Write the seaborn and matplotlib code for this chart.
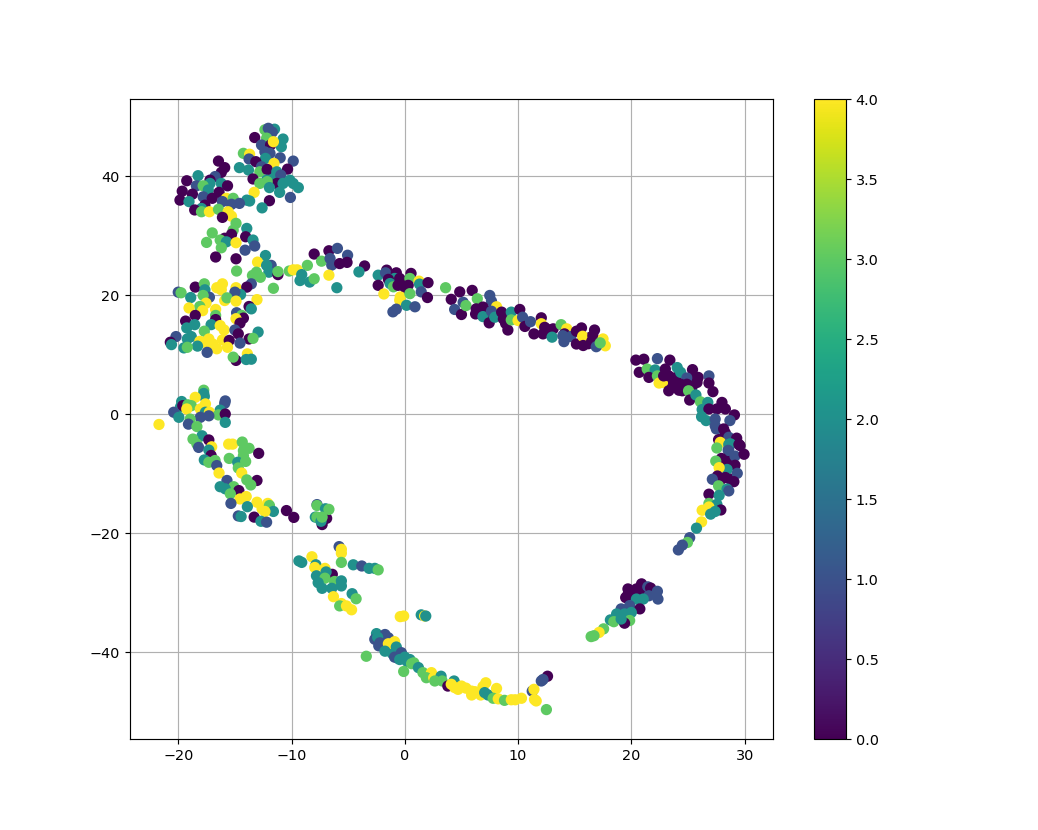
import matplotlib
matplotlib.use("Agg")
import matplotlib.pyplot as plt
from matplotlib.cm import ScalarMappable
from matplotlib.colors import Normalize
import numpy as np
import pandas as pd
import seaborn as sns

x_m = [24,24.6,23.7,25,25.4,23.3,24.2,22.9,23.9,-2,-1.5,-1,-0.5,-1.1,0.2,-2.3,-1.9,-0.6,20,20.3,20.9,21.2,19.5,7,6.6,7.3,8.7,9,8.9,12.8,12.6,15.9,16.2,16.3,15.6,28.5,28.1,28.8,28.7,27.9,28.5,28,28.3,-0.1,0.1,-0.4,-11.6,-11,6.2,5.4]
y_m = [5.5,4.5,4.6,4,5.8,5.3,4,7.2,6.1,-38.3,-39,-39.5,-40.2,-40.2,-41.5,-38.9,-38.9,-41,-30,-30.5,-29.5,-30,-30.8,16.7,17.4,17.2,16.5,16.5,15.2,13.9,14.2,12.5,11.8,12.8,11.9,-7.5,-7.7,-8,-10.9,-11,-8.6,-4.1,-3.2,21.5,21,22.3,39.8,39.2,-46.6,-46]
c_m = [0,0,0,0,0,0,0,0,0,2,2,2,2,2,2,1,1,1,0,0,0,0,0,0,0,0,0,0,0,0,0,0,0,0,0,0,0,0,0,0,0,0,0,0,0,0,2,2,4,4]

x_a = [-12.35,-11.5,-12.05,-11.7,-10.75,-13.25,-12.2,-12.65,-11.85,-10.9,-11.6,-14.25,-13.7,-12.35,-11.9,-11.0,-12.3,-13.75,-13.15,-9.85,-11.55,-12.65,-14.6,-13.8,-12.8,-12.15,-10.35,-11.3,-10.95,-13.4,-12.2,-10.15,-11.3,-12.8,-12.15,-10.75,-9.85,-9.4,-13.3,-11.95,-11.05,-10.1,-11.95,-12.6]
y_a = [47.7,47.8,47.95,47.3,46.15,46.4,46.3,45.15,45.15,44.85,45.7,43.75,43.6,44.0,43.75,43.0,42.9,42.8,42.35,42.45,42.05,41.5,41.35,40.95,40.65,41.05,41.1,40.65,40.1,39.45,39.25,39.25,38.7,38.7,39.0,38.7,38.7,38.0,37.2,38.0,37.2,36.35,35.8,34.6]
c_a = [3,2,1,1,2,0,3,1,0,2,4,3,4,1,1,1,2,1,0,1,4,1,2,2,3,0,0,2,1,0,2,2,0,3,3,2,2,2,4,2,2,1,0,2]

x_b = [-16.45,-15.9,-16.2,-18.25,-16.75,-19.25,-17.2,-16.2,-18.4,-17.2,-15.65,-17.8,-17.35,-19.65,-18.75,-16.4,-17.8,-17,-19.85,-19.05,-15.75,-15.15,-13.95,-13.7,-16.1,-15.3,-14.6,-17.65,-17.95,-18.55,-17.95,-17.25,-16.45,-15.6,-15.3,-16.1,-14.9,-15.15,-13.95,-17,-15.3,-15.9,-17.5,-16.3,-14.05,-15.75,-14.9,-13.4,-13.25,-16.2,-14.1]
y_b = [42.45,41.35,40.55,40,39.85,39.15,39.25,38.7,38.3,38.7,38.3,38.3,37.6,37.4,36.9,37.2,36.45,36.2,35.9,35.65,36.2,36.2,35.9,35.75,35.65,35.2,35.35,35.05,34.5,34.25,33.95,33.95,34.35,33.95,33.2,33.0,32,30.85,31.15,30.4,30.15,29.5,28.8,29.2,29.75,28.9,28.75,29.2,28.2,27.9,27.5]
c_b = [0,0,0,2,1,0,0,2,1,2,0,3,2,0,0,0,1,0,0,2,4,3,2,2,1,1,1,0,2,0,3,4,3,4,4,0,3,3,2,3,0,0,3,3,0,2,4,2,1,3,1]

x_c = [-16.7,-14.9,-12.3,-13,-11.8,-12.2,-14.85,-12,-11.2,-11.2,-13.1,-13.45,-12.75,-10.2,-9.85,-9.5,-8.6,-9.1,-9.25,-8.4,-8,-13.55,-11.6,-18.5,-17.7,-17.65,-17.25,-20,-19.75,-18.9,-17.8,-16.6,-16.1,-16.2,-14.9,-13.95,-14.5,-15,-15.9,-15.7,-14.9,-13.05,-17.55,-18.1,-19.05,-17.85,-16.7,-13.75,-13.55,-14.85,-18.5,-16.7,-14.4,-14.25,-14.9,-16.7,-19.35,-18.55,-17.1,-14.55,-16.3,-15.95,-19.25,-17.7,-15,-12.95,-14.7,-20.2,-18.85,-20.7,-20.6,-19.2,-13.75,-13.4,-16.1,-15.5,-14.55,-18.1,-17.3,-17.7,-16.95,-15.65,-16.6,-18.3,-19.5,-19.2,-17.45,-13.9,-14.9,-15.15,-14,-13.55]
y_c = [26.35,26.05,26.6,25.5,24.95,24.95,24,23.8,23.4,23.9,23.8,23.25,22.95,24,24.2,24.2,24.95,23.4,22.4,22.15,22.7,21.85,21.1,21.3,21.85,20.85,19.6,20.45,20.35,19.55,19.9,21.2,21.85,20.85,21.2,21.3,20.05,20.45,19.05,19.5,18.95,19.2,18.6,18.05,17.8,17.35,17.55,18.05,17.65,17,16.55,16.55,16.55,16.1,16,15.85,15.6,15,15,15.25,14.85,14.1,14.45,13.9,14.1,13.75,13.45,13,13,12.05,11.65,12.6,12.6,12.7,12.45,12.35,11.9,12.2,12.6,12.05,11.75,11.2,10.95,11.4,11.1,11.2,10.35,10.1,9,9.55,9.15,9.2]
c_c = [0,0,2,4,1,2,3,2,0,3,3,3,3,3,4,4,3,2,2,2,3,1,3,0,3,2,1,1,3,2,3,4,4,4,4,0,2,1,4,3,4,4,4,3,4,4,4,0,2,1,0,3,3,0,4,0,0,2,2,0,4,4,2,3,1,2,0,1,2,0,2,2,0,3,4,0,1,4,4,4,4,4,4,2,2,3,1,4,0,3,2,2]

x_d = [-17.75,-17.75,-17.7,-18.5,-19.7,-15.85,-15.9,-17.6,-19.8,-19.6,-19.15,-18.85,-19.25,-18.05,-16.3,-20.4,-17.6,-17.25,-16.45,-15.85,-17.3,-18.05,-19.95,-18.95,-19.1,-15.85,-18.35,-21.7,-17.9,-18.7,-18.35,-17.3,-18.2,-17.05,-17.3,-15.55,-15.2,-14.35,-13.75,-12.9,-14.25,-17.1,-17.7,-17.3,-16.75,-15.5,-14.25,-14.75,-14.05,-16.6,-14.7,-16.4,-14.4,-13.05,-13.95,-13.6,-15.7,-15.1,-16.3,-15.85,-14.65,-15.4,-14.55,-14,-15.35,-13.05,-12.6,-12.1,-11.95,-11.6,-12.35,-13.9,-14.7,-14.45,-13.3,-12.7,-12.2,-10.45,-9.8]
y_d = [4.0,3.45,2.95,2.8,2.1,2.2,1.8,1.7,1.2,1.4,1.55,1.4,0.85,0.85,0.65,0.3,0.3,0.3,-0.15,0,-0.3,-0.55,-0.55,-0.85,-1.7,-1.4,-2.1,-1.75,-3.65,-4.2,-5.05,-4.35,-5.6,-5.5,-6.05,-5.05,-5.05,-4.7,-5.75,-6.6,-6.15,-6.95,-7.7,-8.1,-7.8,-7.45,-7,-8.1,-7.95,-8.65,-9.05,-9.9,-9.9,-11.15,-11.05,-11.9,-11.15,-12.2,-12.2,-12.55,-12.85,-13.4,-14.25,-13.85,-15,-14.8,-15.9,-15,-15.35,-16.35,-16.35,-15.55,-17.1,-17.2,-17.3,-18,-18.15,-16.2,-17.35]
c_d = [3,2,2,4,2,1,1,4,2,0,3,3,4,4,2,1,2,4,3,0,1,1,2,3,1,2,3,4,2,3,3,0,1,4,2,4,4,3,3,0,3,0,2,3,3,3,3,2,3,1,3,4,4,0,3,3,1,3,2,2,0,3,4,4,1,4,4,4,3,2,4,2,1,2,0,2,1,0,0]

x_e = [-6.9,-7.3,-7.75,-7.75,-7.9,-7.75,-7.4,-7,-6.7,-7.3]
y_e = [-17.5,-18.55,-15.2,-15.35,-17.3,-17.3,-18,-15.9,-16,-17.3]
c_e = [0,0,1,3,2,3,2,2,3,3]

x_f = [-8,-6.7,-5.95,-5.05,-7.35,-6.6,-6.45,-5.75,-5.1,-3.55,-4.05,-6.7,-6,-1.6,-2.35,-1.7,-0.75,0.55,-0.9,-1.45,-2.35,-1.3,-1,-0.45,-0.6,0.3,0.45,1.25,1.3,2.05,0.3,3.6,1.45,2,-1.85,-0.4,0.45,-0.45,0.15,0.9,-0.75,-1.05,4.1,4.85,4.4,5]
y_f = [26.85,27.4,27.8,26.65,25.65,26.1,25,25.25,25.45,24.85,23.85,23.3,21.2,24.15,23.3,23.7,23.7,23.6,22.75,22.6,21.6,21.9,21.35,22.75,21.6,22.45,22.75,22.3,21.8,22.05,21.6,21.2,20.5,19.55,20.15,19.65,20.2,19.1,18.25,18,17.6,17.15,19.25,20.5,17.55,16.7]
c_f = [0,0,1,1,3,1,1,0,0,0,2,4,2,0,2,1,0,0,2,0,0,2,3,0,0,0,3,4,2,0,0,3,1,0,4,4,3,4,2,1,1,1,0,0,1,0]

x_g = [5.95,5.15,5.4,6.4,7.5,7.65,6.3,6.25,6.9,6.75,6.9,7.45,8.1,7.65,7.95,8.55,8.7,9.1,9.4,9.4,10,10.15,10.4,10.6,11.1,12.05,12.05,11.4,12.2,12.35,13.1,13,13.8,14.3,14.1,13.95,14.05,14.65,15.15,15.6,15.15,15.7,15.75,16.5,16.75,16.6,17.5,17.7,16.9,17.25]
y_g = [20.75,18.75,18.2,19.35,19.9,18.95,17.65,16.8,17.95,17.35,16.35,15.3,18,17.25,16.25,17.1,15.95,14.1,17.1,15.8,15.7,17.55,16.25,14.7,15.5,16.15,15.15,13.45,13.45,14.55,14.3,12.9,15,14.3,13.45,13.15,12.15,13,11.75,14.45,13.9,13.05,11.5,12.2,14.1,13.15,12.6,11.45,11.3,11.95]
c_g = [0,1,3,3,1,1,0,0,0,0,2,0,4,1,2,0,0,0,2,3,4,0,1,0,1,0,4,0,0,0,0,2,3,4,0,1,1,1,0,0,0,4,0,0,0,0,4,4,1,3]

x_h = [20.4,21.1,22.3,23.4,20.7,21.4,22.1,21.55,22.3,22.45,22.75,23,22.85,23.3,24.05,24.35,25.4,24.9,25.9,23.75,23.3,24.35,24.5,24.9,25.35,25.8,26.85,26.85,27.2,25.05,25.15,25.7,26.1,26.75,28,26.25,26.85,27.55,28.3,29.1,26.2,26.6,27.4,27.4,28.7,27.5,28.15,28.6,29.3,27.7,27.85,28.75,29.6,27.55,28.6]
y_h = [9.05,9.2,9.3,9.05,7,7.55,7.4,6.15,6.4,5.2,5.3,7.55,6.4,6.4,7.8,7,7.45,6.05,6.15,5.3,3.9,5,3.9,5,4.5,5.3,6.4,5.2,3.75,3.9,2.35,3.2,2.05,1.95,1.95,0.75,0.85,0.85,0.85,-0.15,-0.45,-1.1,-0.85,-1.95,-1.1,-2.5,-2.5,-3.9,-4.05,-4.3,-4.75,-5,-5.3,-5.7,-5.85]
c_h = [0,0,1,0,0,3,2,0,3,4,4,0,0,0,2,2,0,1,0,0,0,0,0,0,0,0,1,0,0,3,0,2,3,2,0,2,0,0,0,0,2,2,1,1,1,1,0,1,0,0,4,2,0,3,1]

x_i = [28.6,29.5,28.55,29.15,29.95,27.95,27.45,29.15,28.45,27.75,29.35,28.3,29.05,27.6,27.15,27.7,28.45,28.6,26.85,27.75,26.85,27.55,27.9,26.85,26.25,27,27.4,26.2,25.75,25.15,24.95,24.5,24.15]
y_i = [-5.1,-5.1,-6.1,-7.05,-6.75,-7.45,-7.9,-8.6,-9.3,-9,-9.95,-10.65,-11.35,-10.4,-10.95,-12.05,-12.6,-12.9,-13.45,-13.65,-15,-15.15,-16.1,-15.6,-16.15,-16.8,-16.35,-18.1,-19.15,-20.75,-21.55,-22,-22.8]
c_i = [2,0,1,1,0,0,3,0,2,4,1,0,0,0,1,3,2,1,0,2,3,2,0,4,4,2,2,4,2,1,3,1,1]

x_j = [20.9,21.45,21.7,22.3,19.7,20.45,19.7,20.75,21.55,22.35,20.45,21.05,19.85,20.75,19.1,18.7,19.4,20,19.85,19.4,18.15,18.45,19.1,17.55,17.15,16.7,16.45]
y_j = [-28.5,-29,-29.2,-29.75,-29.35,-29.35,-30.3,-30.3,-30.5,-31.05,-31.05,-31.05,-32.15,-32.7,-32.7,-33.55,-33.55,-33.3,-34.65,-35.1,-34.55,-34.85,-34.4,-36.05,-36.65,-37.2,-37.35]
c_j = [0,1,0,1,0,0,0,0,1,1,2,2,1,0,1,2,2,2,3,0,2,3,2,3,4,3,3]

x_k = [-5.8,-5.6,-5.6,-5.6,-9.35,-9.1,-8.2,-7.85,-7.95,-7.05,-6.4,-6.95,-7.8,-7.05,-6.2,-7.65,-7.3,-6.45,-5.6,-5.6,-4.55,-3.8,-3.15,-2.65,-2.35,-4.65,-4.3,-6.3,-5.6,-5.75,-5.15,-4.7,-0.4,-0.1,1.45,1.75,1.85]
y_k = [-22.25,-22.7,-23.35,-24.9,-24.65,-24.9,-23.95,-25.3,-25.75,-25.9,-26.9,-26.5,-27.15,-27.55,-28.1,-28.3,-29.25,-29.25,-28,-28.85,-25.3,-25.5,-25.9,-25.9,-26.15,-30.15,-31,-30.65,-31.8,-32.2,-32.2,-32.85,-34,-33.9,-33.7,-33.9,-33.9]
c_k = [1,4,4,3,2,2,4,2,4,4,0,2,2,3,3,2,2,2,2,2,2,1,2,2,3,2,3,4,4,3,4,4,4,4,2,4,2]

x_l = [-2.5,-1.75,-1.45,-2.65,-2.4,-2.2,-1.45,-0.9,-0.75,-1.75,-3.4,-0.9,-0.3,-0.45,0,0.45,0.8,0.6,-0.1,1.2,1.6,2.35,1.9,2.55,3.2,2.65,3.3,3.8,4.35,4.1,4.4,5,4.7,5.9,5.9,6.7,7.15,6.9,7.05,7.35,8.1,7.8,8.25,8.8,9.4,9.75,10.3,11.25,11.4,11.45,11.6,12.5,12.6,12.2,12.05]
y_l = [-36.85,-37,-37.55,-37.8,-37.45,-38.4,-38.55,-38.2,-39.1,-39.8,-40.65,-40.8,-40.05,-41.2,-40.8,-41.2,-41.75,-41.9,-43.2,-42.55,-43.4,-43.4,-44.25,-44.25,-44,-44.8,-44.8,-45.65,-44.8,-45.35,-45.9,-45.65,-46.2,-46.5,-47.15,-47.15,-45.1,-45.75,-46.75,-47.15,-46.05,-47.7,-47.8,-48.05,-47.95,-47.95,-47.7,-46.5,-46.2,-47.9,-48.15,-49.6,-44,-44.55,-44.8]
c_l = [2,1,1,1,2,1,4,4,2,2,3,1,1,2,2,2,3,3,3,2,3,4,3,4,2,3,3,0,2,4,4,4,4,4,4,4,4,4,2,2,4,3,4,3,4,4,4,1,4,4,4,3,0,1,1]

df = pd.DataFrame({
    "x": x_m + x_a + x_b + x_c + x_d + x_e + x_f + x_g + x_h + x_i + x_j + x_k + x_l,
    "y": y_m + y_a + y_b + y_c + y_d + y_e + y_f + y_g + y_h + y_i + y_j + y_k + y_l,
    "label": c_m + c_a + c_b + c_c + c_d + c_e + c_f + c_g + c_h + c_i + c_j + c_k + c_l,
})

fig, ax = plt.subplots(figsize=(10, 8), dpi=103.8)
norm = Normalize(vmin=0, vmax=4)
sns.scatterplot(data=df, x="x", y="y", hue="label", hue_norm=norm, palette="viridis",
                s=36, edgecolor="face", linewidth=1.8, legend=False, ax=ax, zorder=3)
ax.grid(True)
ax.set_axisbelow(True)
ax.set_xlabel("")
ax.set_ylabel("")
fig.colorbar(ScalarMappable(norm=norm, cmap="viridis"), ax=ax)
fig.savefig("out.png", dpi=103.8)
